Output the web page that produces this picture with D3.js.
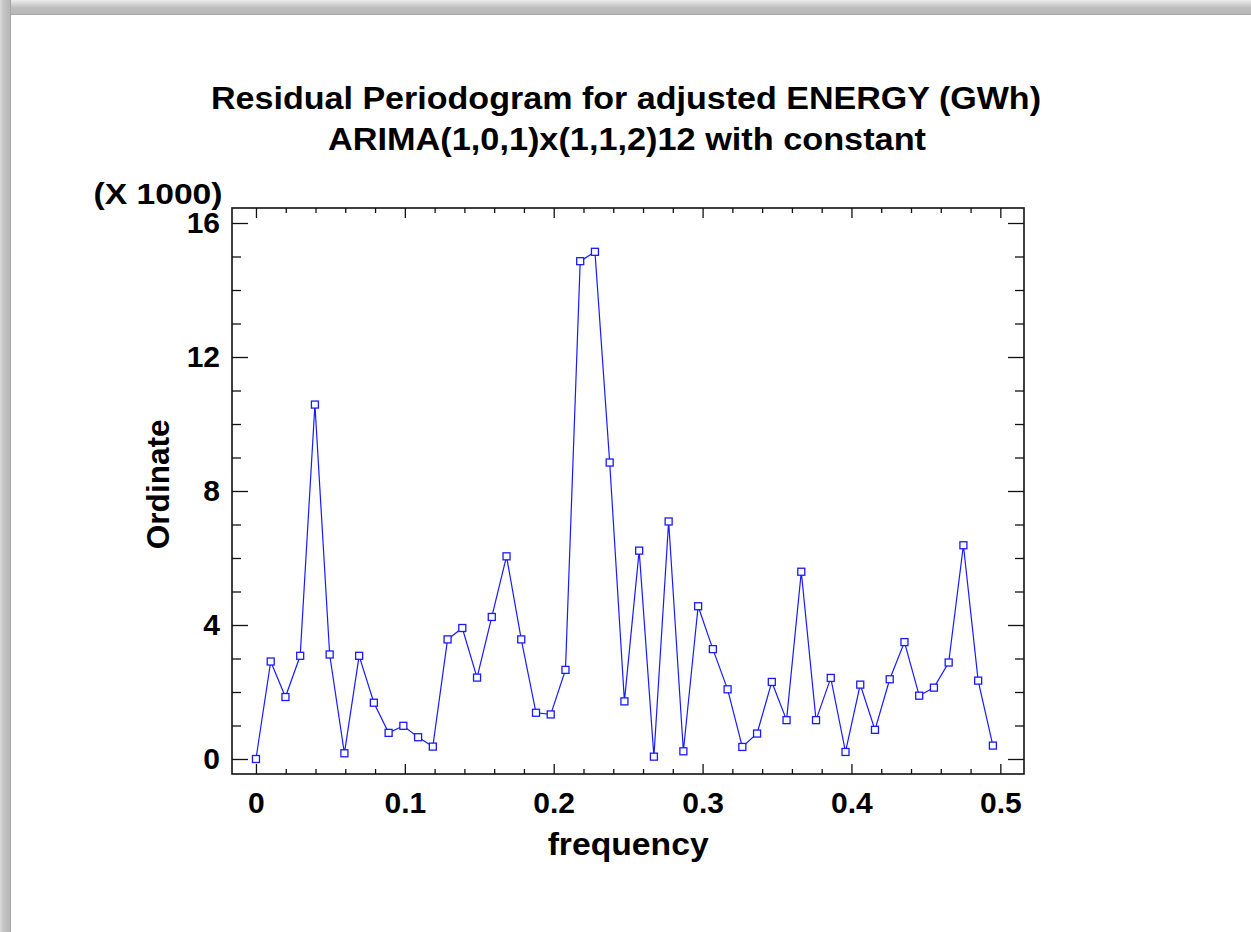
<!DOCTYPE html>
<html>
<head>
<meta charset="utf-8">
<script src="https://cdn.jsdelivr.net/npm/d3@7"></script>
<style>
  body { margin: 0; background: #fff; }
  text { font-family: "Liberation Sans", Arial, sans-serif; font-weight: bold; fill: #000; }
</style>
</head>
<body>
<div id="container"></div>
<script>
const canvasWidth = 1251;
const canvasHeight = 932;

let frequency = [0, 0.0099, 0.0198, 0.0297, 0.0396, 0.0495, 0.0594, 0.0693, 0.0792, 0.0891,
  0.0990, 0.1089, 0.1188, 0.1287, 0.1386, 0.1485, 0.1584, 0.1683, 0.1782, 0.1881,
  0.1980, 0.2079, 0.2178, 0.2277, 0.2376, 0.2475, 0.2574, 0.2673, 0.2772, 0.2871,
  0.2970, 0.3069, 0.3168, 0.3267, 0.3366, 0.3465, 0.3564, 0.3663, 0.3762, 0.3861,
  0.3960, 0.4059, 0.4158, 0.4257, 0.4356, 0.4455, 0.4554, 0.4653, 0.4752, 0.4851, 0.4950];

// ordinate in thousands
let ordinate = [0.00, 2.91, 1.85, 3.08, 10.58, 3.12, 0.17, 3.08, 1.68, 0.78,
  0.99, 0.65, 0.37, 3.57, 3.91, 2.43, 4.24, 6.05, 3.57, 1.38,
  1.33, 2.66, 14.86, 15.14, 8.85, 1.72, 6.22, 0.07, 7.09, 0.23,
  4.56, 3.28, 2.08, 0.36, 0.76, 2.30, 1.16, 5.59, 1.16, 2.42,
  0.21, 2.22, 0.87, 2.38, 3.49, 1.89, 2.13, 2.88, 6.38, 2.34, 0.40];

let xTicks = [0, 0.1, 0.2, 0.3, 0.4, 0.5];
let xMinor = [0.02, 0.04, 0.06, 0.08, 0.12, 0.14, 0.16, 0.18, 0.22, 0.24, 0.26, 0.28,
  0.32, 0.34, 0.36, 0.38, 0.42, 0.44, 0.46, 0.48];
let yTicks = [0, 4, 8, 12, 16];
let yMinor = [1, 2, 3, 5, 6, 7, 9, 10, 11, 13, 14, 15];

let titleLines = ['Residual Periodogram for adjusted ENERGY (GWh)', 'ARIMA(1,0,1)x(1,1,2)12 with constant'];

let data = frequency.map((f, i) => ({f: f, v: ordinate[i]}));

// plot frame
let plotLeft = 232, plotRight = 1024, plotTop = 208, plotBottom = 774;

let x = d3.scaleLinear().domain([-0.0161, 0.5159]).range([plotLeft, plotRight]);
let y = d3.scaleLinear().domain([-0.448, 16.448]).range([plotBottom, plotTop]);

let svg = d3.select('#container')
  .append('svg')
  .attr('width', canvasWidth)
  .attr('height', canvasHeight);

// window chrome (top and left edges of screenshot)
let defs = svg.append('defs');
let gTop = defs.append('linearGradient').attr('id', 'gtop').attr('x1', 0).attr('y1', 0).attr('x2', 0).attr('y2', 1);
gTop.append('stop').attr('offset', '0%').attr('stop-color', '#ececec');
gTop.append('stop').attr('offset', '25%').attr('stop-color', '#d6d6d6');
gTop.append('stop').attr('offset', '55%').attr('stop-color', '#bcbcbc');
gTop.append('stop').attr('offset', '92%').attr('stop-color', '#b8b8b8');
gTop.append('stop').attr('offset', '100%').attr('stop-color', '#9a9a9a');
let gLeft = defs.append('linearGradient').attr('id', 'gleft').attr('x1', 0).attr('y1', 0).attr('x2', 1).attr('y2', 0);
gLeft.append('stop').attr('offset', '0%').attr('stop-color', '#dadada');
gLeft.append('stop').attr('offset', '35%').attr('stop-color', '#c4c4c4');
gLeft.append('stop').attr('offset', '88%').attr('stop-color', '#b8b8b8');
gLeft.append('stop').attr('offset', '100%').attr('stop-color', '#9a9a9a');

svg.append('rect').attr('x', 0).attr('y', 0).attr('width', canvasWidth).attr('height', 15).attr('fill', 'url(#gtop)');
svg.append('rect').attr('x', 0).attr('y', 0).attr('width', 11).attr('height', canvasHeight).attr('fill', 'url(#gleft)');

// titles
svg.append('text')
  .attr('x', 626).attr('y', 109)
  .attr('text-anchor', 'middle')
  .attr('font-size', 31)
  .attr('textLength', 830).attr('lengthAdjust', 'spacingAndGlyphs')
  .text(titleLines[0]);
svg.append('text')
  .attr('x', 627).attr('y', 150)
  .attr('text-anchor', 'middle')
  .attr('font-size', 31)
  .attr('textLength', 598).attr('lengthAdjust', 'spacingAndGlyphs')
  .text(titleLines[1]);

// axes: ticks pointing inward on all four sides
function styleAxis(g) {
  g.select('.domain').remove();
  g.selectAll('line').attr('stroke', '#111').attr('stroke-width', 1.3);
  g.selectAll('text').attr('font-size', 30).attr('font-family', '"Liberation Sans", Arial, sans-serif').attr('font-weight', 'bold');
}

svg.append('g').attr('transform', 'translate(0,' + plotBottom + ')')
  .call(d3.axisBottom(x).tickValues(xTicks).tickSize(-10).tickPadding(18).tickFormat(d3.format('')))
  .call(styleAxis);
svg.append('g').attr('transform', 'translate(0,' + plotBottom + ')')
  .call(d3.axisBottom(x).tickValues(xMinor).tickSize(-5).tickFormat(''))
  .call(styleAxis);
svg.append('g').attr('transform', 'translate(0,' + plotTop + ')')
  .call(d3.axisTop(x).tickValues(xTicks).tickSize(-10).tickFormat(''))
  .call(styleAxis);
svg.append('g').attr('transform', 'translate(0,' + plotTop + ')')
  .call(d3.axisTop(x).tickValues(xMinor).tickSize(-5).tickFormat(''))
  .call(styleAxis);

svg.append('g').attr('transform', 'translate(' + plotLeft + ',0)')
  .call(d3.axisLeft(y).tickValues(yTicks).tickSize(-16).tickPadding(12))
  .call(styleAxis);
svg.append('g').attr('transform', 'translate(' + plotLeft + ',0)')
  .call(d3.axisLeft(y).tickValues(yMinor).tickSize(-9).tickFormat(''))
  .call(styleAxis);
svg.append('g').attr('transform', 'translate(' + plotRight + ',0)')
  .call(d3.axisRight(y).tickValues(yTicks).tickSize(-16).tickFormat(''))
  .call(styleAxis);
svg.append('g').attr('transform', 'translate(' + plotRight + ',0)')
  .call(d3.axisRight(y).tickValues(yMinor).tickSize(-9).tickFormat(''))
  .call(styleAxis);

// frame
svg.append('rect')
  .attr('x', plotLeft).attr('y', plotTop)
  .attr('width', plotRight - plotLeft).attr('height', plotBottom - plotTop)
  .attr('fill', 'none')
  .attr('stroke', '#111')
  .attr('stroke-width', 1.6);

// axis titles
svg.append('text')
  .attr('x', 158).attr('y', 204)
  .attr('text-anchor', 'middle')
  .attr('font-size', 30)
  .attr('textLength', 129).attr('lengthAdjust', 'spacingAndGlyphs')
  .text('(X 1000)');

svg.append('text')
  .attr('transform', 'translate(169,' + y(8.2) + ') rotate(-90)')
  .attr('text-anchor', 'middle')
  .attr('font-size', 31)
  .attr('textLength', 130).attr('lengthAdjust', 'spacingAndGlyphs')
  .text('Ordinate');

svg.append('text')
  .attr('x', x(0.25)).attr('y', 855)
  .attr('text-anchor', 'middle')
  .attr('font-size', 31)
  .attr('textLength', 161).attr('lengthAdjust', 'spacingAndGlyphs')
  .text('frequency');

// series
let line = d3.line().x(d => x(d.f)).y(d => y(d.v));

svg.append('path')
  .datum(data)
  .attr('d', line)
  .attr('fill', 'none')
  .attr('stroke', '#1a1aff')
  .attr('stroke-width', 1.2);

svg.selectAll('.pt').data(data).enter()
  .append('rect')
  .attr('class', 'pt')
  .attr('x', d => x(d.f) - 3.5)
  .attr('y', d => y(d.v) - 3.5)
  .attr('width', 7)
  .attr('height', 7)
  .attr('fill', '#fff')
  .attr('stroke', '#1a1aff')
  .attr('stroke-width', 1.3);
</script>
</body>
</html>
